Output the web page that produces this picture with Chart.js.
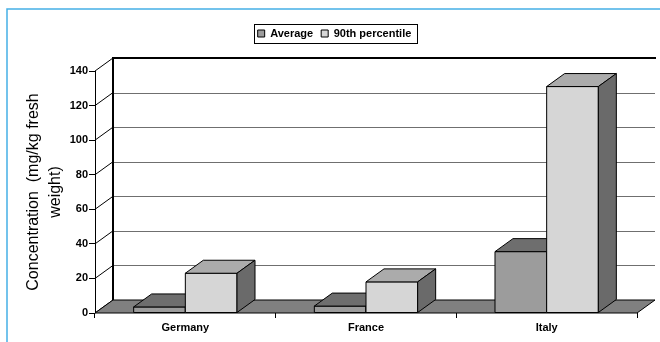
<!DOCTYPE html>
<html>
<head>
<meta charset="utf-8">
<script src="https://cdn.jsdelivr.net/npm/chart.js@4.4.1/dist/chart.umd.min.js"></script>
<style>
  html, body { margin: 0; padding: 0; background: #fff; }
  #wrap { width: 660px; height: 342px; }
</style>
</head>
<body>
<div id="wrap"><canvas id="chart" width="660" height="342"></canvas></div>
<script>
// Concentration per country
const countries = ['Germany', 'France', 'Italy'];
const averageValues = [3.5, 4, 35.5];
const p90Values = [23, 18, 131];
const yMax = 140;
const yStep = 20;

// depth of the 3D box (x shift, y shift)
const DX = 18, DY = -13;
const FONT = '"Liberation Sans", Arial, sans-serif';

const faceColors = [
    { front: '#9c9c9c', top: '#6e6e6e', side: '#5a5a5a' },
    { front: '#d6d6d6', top: '#ababab', side: '#6a6a6a' }
];

function poly(ctx, pts, fill, stroke, lw) {
    ctx.beginPath();
    ctx.moveTo(pts[0][0], pts[0][1]);
    for (let i = 1; i < pts.length; i++) ctx.lineTo(pts[i][0], pts[i][1]);
    ctx.closePath();
    if (fill) { ctx.fillStyle = fill; ctx.fill(); }
    if (stroke) { ctx.strokeStyle = stroke; ctx.lineWidth = lw || 1; ctx.stroke(); }
}

const box3d = {
    id: 'box3d',
    beforeLayout(chart) {
        // leave a gap between legend and plot
        const lg = chart.legend;
        if (lg && !lg._gapFit) {
            const fit = lg.fit;
            lg.fit = function () { fit.call(this); this.height += 22; };
            lg._gapFit = true;
        }
    },
    afterLayout(chart) {
        // nudge legend right a little
        if (chart.legend) { chart.legend.left += 16; chart.legend.right += 16; }
    },
    beforeDraw(chart) {
        const ctx = chart.ctx;
        // light blue frame
        ctx.save();
        ctx.strokeStyle = '#45b0e6';
        ctx.lineWidth = 1.5;
        ctx.beginPath();
        ctx.moveTo(7, 342);
        ctx.lineTo(7, 9);
        ctx.lineTo(660, 9);
        ctx.stroke();
        ctx.restore();
    },
    beforeDatasetsDraw(chart) {
        const ctx = chart.ctx;
        const a = chart.chartArea;
        const y = chart.scales.y;
        ctx.save();
        // back wall gridlines
        for (let v = yStep; v < yMax; v += yStep) {
            const py = Math.round(y.getPixelForValue(v) + DY) + 0.5;
            ctx.strokeStyle = '#6f6f6f';
            ctx.lineWidth = 1;
            ctx.beginPath();
            ctx.moveTo(a.left + DX, py);
            ctx.lineTo(a.right + DX, py);
            ctx.stroke();
        }
        // side wall gridlines
        for (let v = 0; v <= yMax; v += yStep) {
            const py = y.getPixelForValue(v);
            ctx.strokeStyle = '#000';
            ctx.lineWidth = 1;
            ctx.beginPath();
            ctx.moveTo(a.left, py);
            ctx.lineTo(a.left + DX, py + DY);
            ctx.stroke();
        }
        // back wall top and left edges
        ctx.strokeStyle = '#000';
        ctx.lineWidth = 2;
        ctx.beginPath();
        ctx.moveTo(a.left + DX, a.bottom + DY);
        ctx.lineTo(a.left + DX, a.top + DY);
        ctx.lineTo(a.right + DX + 1, a.top + DY);
        ctx.stroke();
        // floor
        poly(ctx, [[a.left, a.bottom], [a.right, a.bottom], [a.right + DX, a.bottom + DY], [a.left + DX, a.bottom + DY]], '#808080', '#000', 1);
        // front vertical axis
        ctx.lineWidth = 1;
        ctx.beginPath();
        ctx.moveTo(a.left + 0.5, a.top);
        ctx.lineTo(a.left + 0.5, a.bottom);
        ctx.stroke();
        ctx.restore();
    },
    beforeDatasetDraw() {
        return false;
    },
    afterDatasetsDraw(chart) {
        const ctx = chart.ctx;
        ctx.save();
        countries.forEach((c, i) => {
            chart.data.datasets.forEach((ds, d) => {
                const bar = chart.getDatasetMeta(d).data[i];
                const col = faceColors[d];
                const x0 = bar.x - bar.width / 2, x1 = bar.x + bar.width / 2;
                const yt = bar.y, yb = bar.base;
                poly(ctx, [[x0, yb], [x0, yt], [x1, yt], [x1, yb]], col.front, '#000', 1);
                poly(ctx, [[x0, yt], [x1, yt], [x1 + DX, yt + DY], [x0 + DX, yt + DY]], col.top, '#000', 1);
                poly(ctx, [[x1, yt], [x1 + DX, yt + DY], [x1 + DX, yb + DY], [x1, yb]], col.side, '#000', 1);
            });
        });
        ctx.restore();
    },
    afterDraw(chart) {
        // frame round the legend
        const boxes = chart.legend.legendHitBoxes;
        if (!boxes || !boxes.length) return;
        const first = boxes[0], last = boxes[boxes.length - 1];
        const ctx = chart.ctx;
        ctx.save();
        ctx.strokeStyle = '#000';
        ctx.lineWidth = 1;
        ctx.strokeRect(Math.round(first.left - 4) + 0.5, Math.round(first.top - 4) + 0.5,
            Math.round(last.left + last.width - first.left + 9), Math.round(first.height + 8));
        ctx.restore();
    }
};

new Chart(document.getElementById('chart'), {
    type: 'bar',
    data: {
        labels: countries,
        datasets: [
            { label: 'Average', data: averageValues, backgroundColor: faceColors[0].front, borderColor: '#000', borderWidth: 1 },
            { label: '90th percentile', data: p90Values, backgroundColor: faceColors[1].front, borderColor: '#000', borderWidth: 1 }
        ]
    },
    options: {
        responsive: false,
        animation: false,
        events: [],
        layout: { padding: { top: 20, right: 23, left: 0, bottom: 0 } },
        datasets: {
            bar: { categoryPercentage: 0.572, barPercentage: 1 }
        },
        plugins: {
            tooltip: { enabled: false },
            legend: {
                position: 'top',
                labels: {
                    boxWidth: 7,
                    boxHeight: 7,
                    padding: 8,
                    color: '#000',
                    font: { family: FONT, size: 11, weight: 'bold' }
                }
            }
        },
        scales: {
            x: {
                grid: { drawOnChartArea: false, tickLength: 5, color: '#000', offset: true },
                border: { display: false },
                ticks: { color: '#000', padding: 3, maxRotation: 0, font: { family: FONT, size: 11, weight: 'bold' } },
                afterFit(scale) { scale.height = 29; }
            },
            y: {
                min: 0,
                max: yMax,
                grid: { drawOnChartArea: false, tickLength: 6, color: '#000' },
                border: { display: false },
                ticks: { stepSize: yStep, color: '#000', padding: 1, font: { family: FONT, size: 11, weight: 'bold' } },
                title: {
                    display: true,
                    text: ['Concentration  (mg/kg fresh', 'weight)'],
                    color: '#000',
                    font: { family: FONT, size: 16, lineHeight: 1.4 },
                    padding: { top: 22, bottom: 0 }
                },
                afterFit(scale) { scale.width = 95; }
            }
        }
    },
    plugins: [box3d]
});
</script>
</body>
</html>
